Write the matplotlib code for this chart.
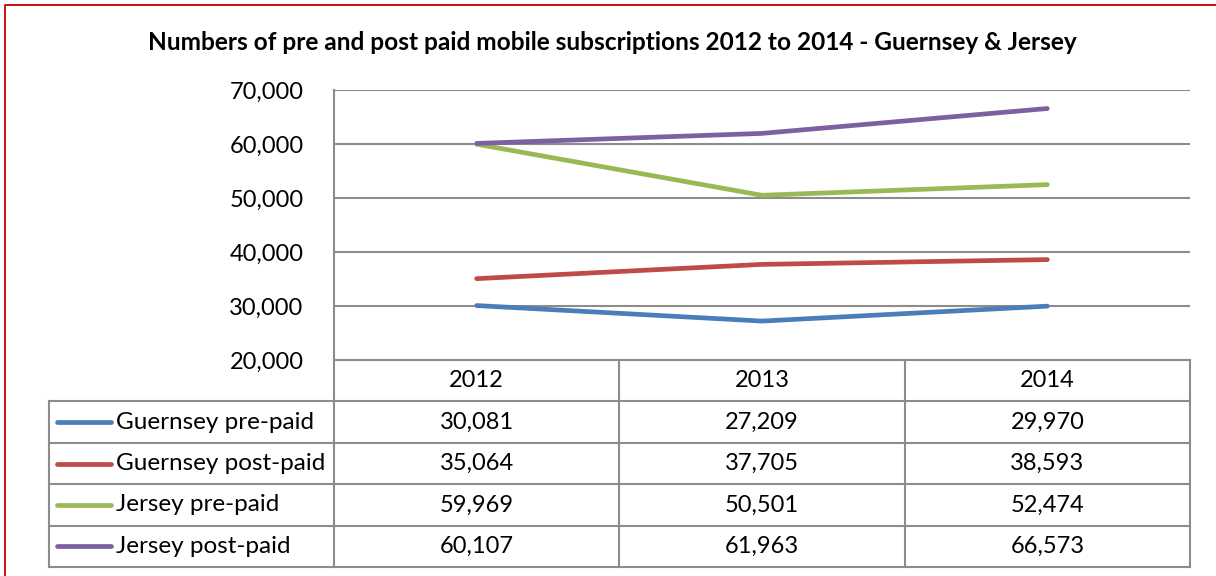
import matplotlib
matplotlib.use("Agg")
import matplotlib.pyplot as plt
from matplotlib.lines import Line2D

plt.rcParams['font.family'] = ['Lato', 'DejaVu Sans']

years = ['2012', '2013', '2014']
series = ['Guernsey pre-paid', 'Guernsey post-paid', 'Jersey pre-paid', 'Jersey post-paid']
guernsey_pre = [30081, 27209, 29970]
guernsey_post = [35064, 37705, 38593]
jersey_pre = [59969, 50501, 52474]
jersey_post = [60107, 61963, 66573]
colors = ['#4A7EBB', '#BE4B48', '#98B954', '#7D60A0']
yticks = [20000, 30000, 40000, 50000, 60000, 70000]

values = [guernsey_pre, guernsey_post, jersey_pre, jersey_post]

W, H = 1216, 576
fig = plt.figure(figsize=(W / 100, H / 100), dpi=100)
grid = '#8C8C8C'

def box(x0, y0, x1, y1):
    # pixel box (top-left origin) -> figure fraction rect
    return [x0 / W, 1 - y1 / H, (x1 - x0) / W, (y1 - y0) / H]

# red frame, only the left and top edges fall inside the image
fx, fy = 4.5 / W, 1 - 4.5 / H
fig.add_artist(Line2D([fx, fx, 1.01], [-0.01, fy, fy], transform=fig.transFigure,
                      color='#C00000', linewidth=1.3))

fig.text(612 / W, 1 - 43 / H, 'Numbers of pre and post paid mobile subscriptions 2012 to 2014 - Guernsey & Jersey',
         ha='center', va='center', fontsize=17.6, fontweight='bold')

# line chart
ax = fig.add_axes(box(334, 90, 1190, 360))
for vals, c in zip(values, colors):
    ax.plot(range(len(years)), vals, color=c, linewidth=3.4, solid_capstyle='round', zorder=3)
ax.set_xlim(-0.5, len(years) - 0.5)
ax.set_ylim(yticks[0], yticks[-1])
ax.set_yticks(yticks)
ax.set_yticklabels(['{:,}'.format(v) for v in yticks])
ax.set_xticks([])
ax.tick_params(axis='y', length=0, pad=22, labelsize=17)
for t in yticks:
    ax.axhline(t, color=grid, linewidth=1.5, zorder=1)
for s in ['top', 'right', 'bottom']:
    ax.spines[s].set_visible(False)
ax.spines['left'].set_color(grid)
ax.spines['left'].set_linewidth(1.5)

# data table underneath, sharing the chart's column spacing
unit = (1190 - 334) / len(years)
tax = fig.add_axes(box(334 - unit, 360, 1190, 567))
tax.set_xlim(-1.5, len(years) - 0.5)
tax.set_ylim(len(series) + 1, 0)
tax.axis('off')
lw = 1.5
nrows = len(series) + 1
# horizontal rules
tax.plot([-0.5, len(years) - 0.5], [0, 0], color=grid, lw=lw, clip_on=False)
for r in range(1, nrows + 1):
    tax.plot([-1.5, len(years) - 0.5], [r, r], color=grid, lw=lw, clip_on=False)
# vertical rules
tax.plot([-1.5, -1.5], [1, nrows], color=grid, lw=lw, clip_on=False)
for i in range(len(years) + 1):
    tax.plot([i - 0.5, i - 0.5], [0, nrows], color=grid, lw=lw, clip_on=False)

for i, y in enumerate(years):
    tax.text(i, 0.5, y, ha='center', va='center', fontsize=17)
for r, (name, vals, c) in enumerate(zip(series, values, colors)):
    yc = r + 1.5
    tax.add_line(Line2D([-1.47, -1.28], [yc, yc], color=c, lw=3.4, solid_capstyle='round'))
    tax.text(-1.265, yc, name, ha='left', va='center', fontsize=17.5)
    for i, v in enumerate(vals):
        tax.text(i, yc, '{:,}'.format(v), ha='center', va='center', fontsize=17)

fig.savefig('out.png', dpi=100)
